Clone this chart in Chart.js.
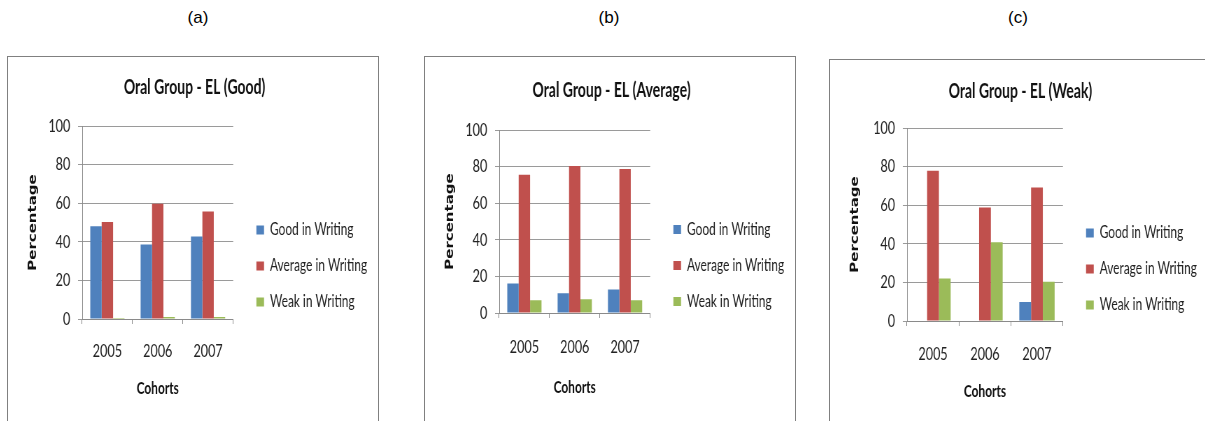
<!DOCTYPE html>
<html>
<head>
<meta charset="utf-8">
<script src="https://cdn.jsdelivr.net/npm/chart.js@4.4.0/dist/chart.umd.min.js"></script>
<style>
  html, body { margin: 0; padding: 0; background: #fff; overflow: hidden; }
  body { width: 1205px; height: 421px; position: relative; }
  .cap { position: absolute; top: 8px; width: 60px; text-align: center;
         font: 17px "Liberation Sans", Arial, sans-serif; color: #000; }
  .panel { position: absolute; width: 370px; height: 380px; border: 1px solid #808080;
           background: #fff; overflow: hidden; }
  /* the source figure is squeezed horizontally, so squeeze the canvas the same way */
  .panel canvas { display: block; transform: scaleX(0.7); transform-origin: 0 0; }
</style>
</head>
<body>
<div class="cap" style="left:168px">(a)</div>
<div class="cap" style="left:579px">(b)</div>
<div class="cap" style="left:988px">(c)</div>

<div class="panel" style="left:7px; top:56px"><canvas id="chartA" width="529" height="380"></canvas></div>
<div class="panel" style="left:424px; top:56px"><canvas id="chartB" width="529" height="380"></canvas></div>
<div class="panel" style="left:829px; top:59px; width:380px"><canvas id="chartC" width="540" height="380"></canvas></div>

<script>
// Cohorts & series (percentages)
var cohorts = ['2005', '2006', '2007'];
var seriesNames = ['Good in Writing', 'Average in Writing', 'Weak in Writing'];
var seriesColors = ['#4F81BD', '#C0504D', '#9BBB59'];

var goodGood = [48, 38.6, 42.8];
var goodAverage = [50.2, 59.7, 55.7];
var goodWeak = [0.5, 1, 1];

var avgGood = [16.1, 10.8, 12.8];
var avgAverage = [75.5, 80.3, 78.7];
var avgWeak = [6.9, 7.5, 6.9];

var weakGood = [0, 0, 9.9];
var weakAverage = [77.8, 58.8, 69.2];
var weakWeak = [22, 40.8, 20.4];

var yTicks = [0, 20, 40, 60, 80, 100];

var textFont = "Lato, 'DejaVu Sans Condensed', sans-serif";

// small per-panel layout differences of the original figure
var frameA = { yWidth: 96, titleTop: 19, titleBottom: 26, xHeight: 80, tickPad: 16, bottom: 38 };
var frameB = { yWidth: 96, titleTop: 22, titleBottom: 27, xHeight: 85, tickPad: 18, bottom: 39 };
var frameC = { yWidth: 100, titleTop: 20, titleBottom: 24, xHeight: 81, tickPad: 17, bottom: 38 };

function createChart(canvasId, title, good, average, weak, frame) {
  var values = [good, average, weak];
  return new Chart(document.getElementById(canvasId), {
    type: 'bar',
    data: {
      labels: cohorts,
      datasets: seriesNames.map(function (name, i) {
        return {
          label: name,
          data: values[i],
          backgroundColor: seriesColors[i],
          borderWidth: 0,
          barPercentage: 1,
          categoryPercentage: 0.68,
        };
      }),
    },
    options: {
      responsive: false,
      animation: false,
      layout: { padding: { left: 10, right: 6, top: 0, bottom: frame.bottom } },
      scales: {
        x: {
          grid: { drawOnChartArea: false, drawTicks: true, tickLength: 5, color: '#8a8a8a' },
          border: { color: '#8a8a8a' },
          ticks: { color: '#222', padding: frame.tickPad, font: { family: textFont, size: 18 } },
          title: {
            display: true, text: 'Cohorts', color: '#111',
            padding: { top: 0, bottom: 0 },
            font: { family: textFont, size: 17, weight: 'bold' },
          },
          afterFit: function (scale) { scale.height = frame.xHeight; },
        },
        y: {
          min: 0,
          max: 100,
          afterBuildTicks: function (scale) {
            scale.ticks = yTicks.map(function (v) { return { value: v }; });
          },
          grid: { color: '#9a9a9a', tickLength: 6 },
          border: { color: '#8a8a8a' },
          ticks: { color: '#222', padding: 11, font: { family: textFont, size: 18 } },
          title: {
            display: true, text: 'Percentage', color: '#111',
            padding: { top: 17, bottom: 0 },
            font: { family: "'DejaVu Sans', Verdana, sans-serif", size: 15, weight: 'bold' },
          },
          afterFit: function (scale) { scale.width = frame.yWidth; },
        },
        // empty spacer between the plot and the legend
        gap: {
          position: 'right',
          display: true,
          grid: { drawOnChartArea: false, drawTicks: false },
          border: { display: false },
          ticks: { display: false },
          afterFit: function (scale) { scale.width = 14; },
        },
      },
      plugins: {
        title: {
          display: true, text: title, color: '#111',
          padding: { top: frame.titleTop, bottom: frame.titleBottom },
          font: { family: textFont, size: 20, weight: 'bold' },
        },
        legend: {
          position: 'right',
          align: 'center',
          maxWidth: 260,
          title: { display: true, text: '', padding: { top: 64, bottom: 0 }, font: { size: 10 } },
          labels: {
            boxWidth: 11,
            boxHeight: 9,
            padding: 19,
            color: '#222',
            font: { family: textFont, size: 17 },
          },
        },
        tooltip: { enabled: false },
      },
    },
  });
}

createChart('chartA', 'Oral Group - EL (Good)', goodGood, goodAverage, goodWeak, frameA);
createChart('chartB', 'Oral Group - EL (Average)', avgGood, avgAverage, avgWeak, frameB);
createChart('chartC', 'Oral Group - EL (Weak)', weakGood, weakAverage, weakWeak, frameC);
</script>
</body>
</html>
